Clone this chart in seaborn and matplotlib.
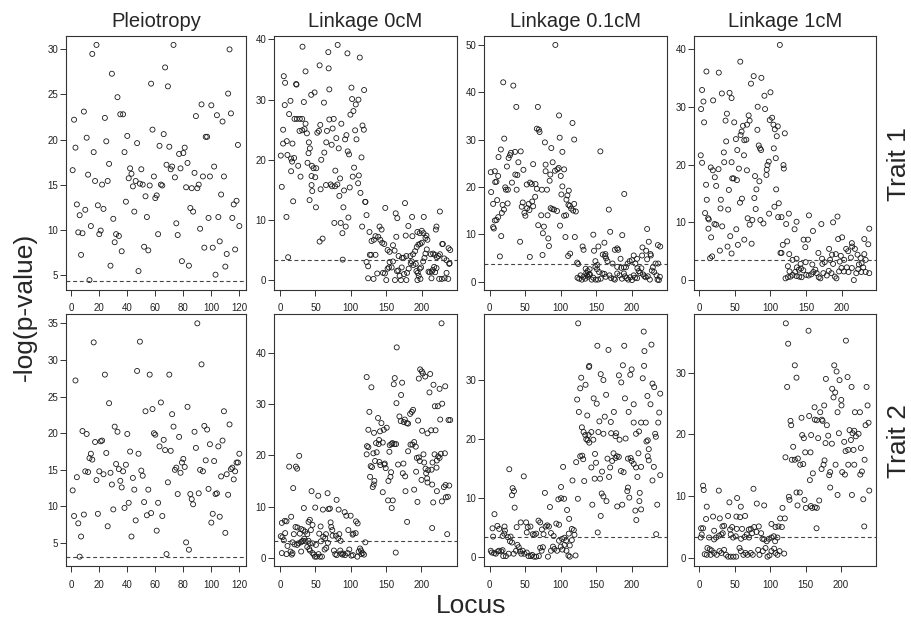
import numpy as np
import matplotlib
matplotlib.use("Agg")
import matplotlib.pyplot as plt
import seaborn as sns

# -log(p-value) per locus
pleio_t1 = [16.6, 22.2, 19.1, 12.8, 9.7, 11.6, 7.2, 9.6, 23.1, 12.2,
            20.2, 16.1, 4.4, 10.4, 29.5, 18.6, 15.4, 30.5, 12.7, 9.5,
            9.9, 15.0, 12.3, 22.4, 19.8, 15.4, 17.3, 6.0, 27.3, 11.2,
            8.6, 9.5, 24.7, 9.3, 22.8, 7.6, 22.8, 18.6, 13.1, 20.4,
            15.7, 16.8, 16.2, 14.8, 12.0, 15.4, 19.6, 5.4, 15.1, 16.7,
            15.0, 8.1, 13.7, 11.4, 7.7, 14.9, 26.2, 21.1, 15.9, 13.5,
            13.8, 9.5, 19.3, 15.0, 14.9, 20.6, 28.0, 17.2, 25.9, 19.2,
            16.7, 17.0, 30.5, 15.8, 10.7, 9.4, 18.4, 16.8, 6.5, 18.5,
            19.1, 14.7, 17.4, 6.0, 12.4, 14.6, 12.0, 16.3, 22.6, 14.6,
            15.0, 10.1, 23.9, 15.9, 8.0, 20.3, 20.3, 11.3, 15.9, 23.8,
            8.0, 17.0, 5.0, 22.7, 11.4, 8.7, 13.9, 22.0, 15.9, 5.9,
            7.3, 25.1, 30.0, 22.9, 11.3, 12.8, 7.8, 13.2, 19.4, 10.4]
pleio_t2 = [12.2, 8.7, 27.2, 14.0, 7.7, 3.15, 5.9, 20.3, 8.9, 14.8,
            19.9, 14.7, 16.6, 17.2, 16.4, 32.4, 18.8, 13.6, 9.0, 14.8,
            18.9, 19.0, 14.4, 28.0, 17.3, 7.3, 24.1, 14.6, 13.0, 9.6,
            20.9, 15.8, 20.2, 15.1, 13.5, 12.6, 14.8, 9.8, 15.7, 19.9,
            10.5, 17.5, 5.9, 13.9, 12.3, 8.1, 28.5, 17.2, 32.5, 14.9,
            14.2, 10.6, 23.0, 8.8, 12.3, 28.0, 9.1, 23.3, 20.0, 19.8,
            6.7, 10.5, 18.2, 24.2, 8.7, 19.1, 17.7, 3.5, 13.3, 28.0,
            17.6, 22.6, 20.9, 15.0, 15.3, 11.7, 19.5, 14.6, 16.0, 16.5,
            15.4, 5.1, 23.6, 4.1, 11.7, 11.0, 10.3, 20.2, 18.0, 35.0,
            11.8, 15.0, 29.4, 14.8, 21.0, 16.3, 20.5, 12.4, 18.5, 7.8,
            9.0, 16.2, 11.7, 11.8, 18.2, 8.6, 14.1, 19.0, 23.0, 6.4,
            14.4, 11.6, 21.2, 15.1, 15.3, 13.7, 14.8, 16.0, 16.0, 17.2]

link0_t1_x = [31.7, 68.2, 81.4, 95.2, 112.7, 36.0, 55.9, 68.7, 5.2, 7.1,
              22.7, 23.2, 44.0, 48.8, 69.6, 100.9, 118.8, 14.7, 33.6, 6.6,
              62.0, 101.8, 110.8, 107.0, 103.7, 99.4, 12.8, 20.4, 23.7, 27.9,
              31.3, 36.0, 69.6, 75.8, 86.6, 116.5, 118.4, 4.3, 27.5, 31.3,
              34.6, 37.9, 52.6, 54.9, 56.8, 66.3, 74.3, 93.8, 106.1, 108.0,
              4.3, 9.5, 17.5, 40.7, 42.1, 65.3, 72.9, 79.5, 91.9, 1.0,
              10.4, 15.6, 17.0, 19.9, 25.6, 62.5, 82.9, 95.6, 97.5, 115.1,
              40.2, 15.6, 28.9, 38.8, 45.0, 47.3, 51.1, 58.2, 78.1, 84.8,
              104.6, 111.3, 102.7, 2.4, 44.5, 49.7, 44.5, 45.5, 57.3, 64.9,
              71.5, 77.7, 81.0, 73.4, 83.8, 90.4, 98.5, 110.3, 113.6, 18.5,
              41.7, 50.7, 89.5, 120.3, 120.7, 9.0, 76.7, 85.7, 96.6, 88.1,
              92.8, 116.0, 122.2, 55.9, 60.1, 11.4, 88.5,
              122.2, 124.5, 126.4, 129.3, 132.6, 134.9, 138.7, 141.6, 144.4, 147.3,
              140.6, 143.5, 148.7, 163.4, 165.7, 176.6, 186.6, 203.1, 225.9, 181.3,
              221.1, 220.2, 164.3, 177.6, 187.0, 194.1, 197.4, 200.3, 202.7, 205.5,
              206.9, 208.3,
              126.9, 128.8, 134.9, 152.0, 154.8, 159.6, 161.9, 167.6, 172.3, 174.7,
              178.5, 184.2, 188.0, 190.8, 193.2, 195.5, 197.9, 200.3, 205.5, 207.4,
              213.1, 216.4, 218.8, 221.6, 224.0, 225.9, 229.2, 230.1, 238.2, 240.5,
              232.0, 235.3, 239.1,
              124.5, 132.1, 137.3, 145.4, 148.2, 150.1, 152.0, 153.9, 154.8, 157.7,
              159.6, 162.4, 165.2, 167.1, 169.0, 170.9, 171.9, 175.2, 178.5, 179.5,
              181.8, 184.7, 186.1, 188.4, 191.8, 192.7, 194.6, 197.4, 199.3, 202.2,
              204.1, 209.8, 211.6, 214.5, 215.9, 217.8, 219.2, 221.1,
              194.1, 196.0, 198.4, 214.0, 224.9, 228.7, 232.5, 235.3, 237.7, 239.6]
link0_t1_y = [38.8, 37.9, 39.1, 37.7, 37.0, 34.7, 35.7, 35.2, 33.9, 32.8,
              32.6, 32.5, 30.8, 31.2, 31.7, 32.0, 31.6, 29.8, 29.6, 29.1,
              29.5, 30.1, 30.0, 29.2, 28.1, 27.5, 27.6, 26.8, 26.8, 26.8,
              26.8, 26.0, 26.7, 26.8, 26.0, 25.7, 25.0, 25.0, 24.8, 24.9,
              25.1, 24.4, 24.5, 24.8, 25.8, 24.8, 25.2, 24.1, 24.9, 23.4,
              22.7, 23.1, 22.7, 22.9, 21.9, 22.9, 22.5, 23.6, 23.4, 20.7,
              20.8, 20.2, 19.7, 20.3, 19.0, 21.2, 21.9, 21.4, 20.9, 20.4,
              21.1, 18.1, 17.2, 19.5, 19.0, 18.6, 18.6, 20.0, 18.2, 16.9,
              18.7, 17.4, 17.2, 15.5, 17.3, 17.1, 15.8, 14.8, 15.1, 15.8,
              15.9, 15.6, 15.9, 15.6, 14.0, 14.9, 15.4, 16.1, 14.5, 13.1,
              13.3, 12.1, 12.1, 13.0, 13.0, 10.5, 9.5, 9.5, 10.4, 7.8,
              8.9, 8.9, 10.8, 6.4, 6.9, 3.8, 3.4,
              3.0, 2.3, 8.0, 6.5, 6.7, 7.3, 7.2, 6.7, 6.2, 6.0,
              8.9, 8.4, 12.0, 11.1, 10.3, 12.8, 10.5, 10.5, 11.4, 9.0,
              8.9, 8.4, 7.2, 7.4, 7.3, 8.0, 7.8, 8.2, 7.8, 7.0,
              7.4, 6.7,
              4.2, 4.2, 4.2, 5.0, 4.7, 5.8, 4.9, 4.0, 3.7, 3.7,
              4.0, 4.0, 4.3, 4.8, 5.5, 5.9, 6.0, 6.2, 4.4, 5.1,
              4.3, 4.4, 4.2, 3.8, 4.0, 4.3, 6.0, 6.0, 5.3, 5.0,
              3.6, 3.3, 2.7,
              0.3, 0.2, 1.1, 1.2, 1.1, 0.0, 1.9, 2.1, 3.0, 2.1,
              3.1, 0.0, 1.5, 1.6, 0.7, 0.0, 2.1, 1.0, 0.0, 1.2,
              1.9, 2.8, 3.1, 2.5, 2.7, 1.5, 1.2, 1.9, 2.1, 3.1,
              3.7, 1.4, 1.3, 1.4, 1.7, 2.2, 1.3, 2.0,
              0.0, 0.7, 0.2, 0.3, 0.2, 0.2, 0.3, 1.2, 0.2, 2.8]

link01_t1_x = [92.3, 19.0, 33.2, 37.4, 67.7, 97.5, 116.4, 66.3, 70.1, 69.1,
               20.4, 98.4, 118.8, 77.6, 15.7, 12.4, 86.6, 102.2, 35.6, 43.6,
               29.9, 26.6, 28.5, 40.3, 61.1, 88.5, 78.6, 97.0, 95.2, 104.6,
               24.2, 47.4, 7.2, 1.5, 11.9, 91.8, 78.6, 85.2, 36.0, 38.9,
               99.9, 84.3, 7.7, 9.5, 31.3, 56.8, 59.2, 64.4, 52.1, 21.8,
               22.8, 25.6, 37.9, 66.3, 73.4, 80.5, 102.2, 2.0, 100.8, 111.2,
               10.5, 4.8, 18.1, 46.4, 45.0, 54.9, 63.9, 59.7, 61.1, 52.6,
               55.9, 48.8, 50.2, 25.2, 20.0, 17.1, 11.9, 9.5, 7.2, 112.6,
               110.7, 114.5, 118.8, 121.1, 117.4, 107.9, 109.3, 85.7, 88.0, 90.4,
               94.7, 72.4, 81.4, 104.6, 107.4, 4.8, 5.8, 68.2, 76.2, 74.8,
               82.4, 83.3, 98.9, 106.5, 119.7, 16.2, 42.7, 14.3, 56.4, 74.3,
               110.3, 113.1, 123.0, 124.4, 130.6, 132.0, 145.7, 152.8, 155.6, 161.3,
               159.0, 162.7, 167.5, 169.4, 176.0, 179.3, 180.7, 186.4, 189.2, 184.0,
               221.4, 223.7, 214.8, 220.0, 236.5, 239.8, 226.1, 226.6, 221.4, 214.3,
               207.2, 202.5, 200.1, 196.8, 204.8, 162.3, 146.7, 163.7, 165.6, 172.7,
               179.3, 185.0, 188.7, 191.6, 194.0, 148.6, 151.4, 137.7, 134.9, 135.8,
               139.6, 140.5, 148.6, 150.9, 153.8, 161.3, 163.2, 168.4, 170.8, 174.6,
               176.0, 179.3, 182.6, 185.9, 188.7, 190.2, 192.5, 194.9, 197.7, 200.1,
               202.5, 204.4, 207.7, 209.5, 211.4, 213.3, 215.7, 217.6, 219.5, 228.0,
               229.4, 231.3, 233.2, 234.6, 236.0, 237.9, 239.3, 236.9, 123.5, 125.9,
               127.8, 129.6, 132.0, 134.4, 136.8, 138.2, 141.0, 143.4, 145.7, 149.0,
               152.3, 156.1, 158.5, 207.2, 222.3, 225.2]
link01_t1_y = [50.0, 42.1, 41.4, 36.9, 36.9, 35.1, 33.5, 32.3, 31.6, 32.1,
               30.2, 30.4, 30.0, 29.4, 27.9, 26.3, 28.2, 27.4, 27.4, 27.5,
               27.2, 26.1, 26.7, 25.2, 24.8, 25.2, 24.7, 24.0, 23.7, 23.7,
               24.3, 23.6, 23.3, 23.1, 22.3, 23.4, 23.3, 22.6, 22.6, 22.5,
               22.3, 21.3, 21.0, 21.1, 20.9, 20.9, 20.6, 20.6, 20.5, 19.9,
               19.4, 19.4, 19.4, 19.6, 19.4, 19.4, 20.1, 18.9, 18.4, 19.2,
               17.2, 16.4, 16.2, 16.7, 15.8, 16.4, 17.9, 16.9, 15.9, 15.5,
               15.1, 14.5, 13.9, 16.5, 15.2, 14.5, 13.6, 13.0, 12.9, 16.0,
               16.2, 15.4, 16.4, 14.8, 15.0, 17.3, 18.2, 15.5, 15.3, 15.2,
               14.9, 14.0, 14.0, 13.9, 14.0, 11.5, 11.2, 11.9, 11.6, 10.2,
               9.1, 7.5, 11.8, 9.4, 9.4, 9.6, 8.4, 5.3, 5.2, 5.6,
               5.4, 5.9, 4.0, 3.7, 7.4, 6.7, 9.9, 7.4, 27.5, 8.2,
               5.7, 5.8, 15.2, 10.5, 6.7, 7.0, 6.7, 9.8, 18.5, 4.8,
               11.1, 8.4, 7.2, 6.5, 7.7, 7.4, 5.8, 5.5, 4.7, 5.5,
               4.8, 5.5, 4.5, 4.3, 3.8, 5.4, 6.5, 4.9, 4.3, 3.8,
               3.1, 2.9, 3.0, 3.0, 3.8, 4.3, 3.5, 2.2, 2.7, 1.8,
               1.5, 2.6, 3.1, 2.6, 2.0, 1.6, 1.0, 1.3, 0.7, 0.6,
               0.4, 1.7, 1.3, 0.6, 1.7, 1.1, 0.7, 0.4, 0.9, 0.3,
               1.3, 0.8, 2.8, 2.2, 1.8, 2.8, 1.5, 1.1, 0.9, 2.3,
               3.0, 2.0, 3.8, 1.3, 0.4, 0.3, 1.0, 3.8, 0.8, 0.6,
               1.3, 0.4, 1.0, 0.6, 1.3, 1.0, 1.5, 0.4, 0.8, 0.4,
               0.4, 0.6, 1.7, 0.7, 1.1, 0.4]

link1_t1_x = [113.2, 57.5, 9.9, 27.3, 76.4, 87.2, 72.6, 3.8, 5.7, 19.3,
              31.6, 42.4, 45.3, 100.0, 91.5, 82.0, 92.4, 2.4, 38.7, 36.8,
              49.0, 69.3, 70.7, 67.0, 61.3, 99.0, 102.3, 104.2, 110.3, 106.1,
              6.6, 81.6, 59.4, 58.0, 66.0, 63.2, 37.7, 51.4, 108.9, 120.2,
              83.5, 85.3, 86.8, 34.4, 53.3, 104.7, 62.7, 1.9, 3.8, 107.5,
              16.0, 18.9, 26.9, 34.9, 45.3, 55.6, 66.9, 97.6, 95.7, 94.8,
              94.3, 118.3, 118.8, 46.2, 48.1, 52.8, 21.7, 23.6, 41.5, 78.3,
              84.4, 9.4, 10.4, 30.2, 59.9, 57.1, 108.0, 80.2, 111.7, 77.3,
              105.6, 29.7, 40.5, 79.2, 8.0, 12.3, 13.2, 67.9, 70.7, 74.5,
              85.8, 90.1, 98.1, 110.8, 115.5, 125.9, 21.2, 23.6, 32.1, 12.7,
              16.5, 43.4, 51.9, 63.2, 73.5, 54.2, 39.6, 28.8, 45.3, 17.9,
              15.1, 154.2, 194.3, 188.1, 171.6, 136.7, 122.1, 159.8, 133.9, 200.8,
              195.2, 239.0, 232.0, 237.6, 146.6, 152.8, 123.5, 117.4, 149.0, 114.1,
              115.5, 126.4, 131.1, 136.7, 167.4, 182.5, 191.9, 199.0, 206.5, 209.3,
              214.5, 215.0, 218.8, 222.5, 226.8, 232.0, 233.9, 213.1, 203.7, 197.5,
              186.7, 188.1, 183.9, 176.3, 173.0, 172.6, 158.9, 149.5, 142.4, 137.2,
              124.5, 126.8, 140.0, 142.9, 146.2, 134.8, 131.1, 136.7, 121.2, 124.5,
              128.2, 140.5, 143.8, 150.4, 153.7, 157.5, 160.3, 163.1, 165.0, 167.9,
              170.2, 174.4, 179.2, 182.0, 185.8, 190.5, 192.8, 196.6, 199.9, 203.2,
              207.4, 209.8, 214.5, 217.3, 220.7, 223.5, 227.7, 230.5, 233.9, 239.0,
              228.2, 224.4]
link1_t1_y = [40.7, 37.8, 36.1, 35.9, 35.3, 35.0, 34.0, 32.9, 30.9, 31.1,
              32.3, 32.4, 31.5, 32.5, 31.9, 30.0, 29.6, 29.6, 28.8, 27.6,
              27.3, 28.5, 27.6, 26.9, 26.7, 27.7, 28.1, 26.9, 26.6, 26.1,
              27.3, 26.0, 25.7, 25.1, 24.3, 24.2, 24.0, 24.4, 24.9, 25.4,
              23.3, 22.8, 22.5, 22.1, 22.5, 22.8, 21.6, 21.6, 20.3, 21.1,
              19.5, 19.0, 19.2, 20.4, 20.4, 19.3, 19.0, 20.5, 19.9, 19.1,
              18.2, 19.9, 19.3, 17.6, 17.6, 17.3, 17.8, 16.3, 15.6, 18.0,
              17.1, 16.5, 13.9, 13.9, 14.1, 13.4, 15.7, 15.7, 13.3, 14.2,
              12.7, 12.4, 12.2, 12.3, 11.6, 10.7, 10.5, 10.7, 9.6, 10.4,
              10.4, 9.8, 11.5, 10.9, 10.9, 11.5, 9.7, 9.6, 9.3, 8.9,
              7.4, 7.6, 8.8, 7.0, 6.3, 6.1, 5.8, 5.1, 4.6, 4.1,
              3.8, 11.2, 11.0, 10.0, 9.7, 10.1, 9.7, 8.5, 8.8, 7.4,
              7.1, 8.9, 7.1, 6.2, 7.0, 7.0, 6.7, 6.1, 5.7, 4.7,
              4.7, 4.5, 3.5, 3.7, 4.7, 5.4, 4.5, 4.2, 5.4, 5.0,
              6.4, 5.8, 5.4, 4.4, 3.8, 4.5, 3.5, 3.9, 3.5, 3.2,
              4.4, 2.8, 3.5, 3.1, 2.8, 3.7, 2.7, 3.1, 2.8, 2.2,
              2.4, 1.5, 1.8, 2.0, 1.7, 1.4, 0.9, 0.7, 0.3, 0.5,
              0.6, 0.6, 0.5, 0.9, 0.8, 1.0, 1.4, 1.8, 1.2, 0.5,
              0.3, 1.2, 0.8, 1.6, 1.2, 0.6, 0.3, 1.5, 2.1, 1.5,
              2.2, 1.4, 2.1, 0.0, 1.2, 1.9, 1.4, 2.2, 1.4, 1.2,
              2.9, 2.7]

link0_t2_x = [228.7, 165.2, 122.6, 129.3, 162.4, 172.8, 161.0, 171.4, 164.8, 198.4,
              200.8, 202.2, 205.5, 196.5, 212.6, 211.6, 217.3, 219.2, 223.5, 225.9,
              229.6, 233.9, 238.6, 241.0, 226.8, 126.4, 125.0, 133.0, 138.7, 143.5,
              141.6, 146.8, 151.0, 169.0, 170.9, 175.2, 176.6, 179.5, 181.3, 184.2,
              186.6, 188.4, 195.5, 201.2, 214.0, 220.2, 208.8, 140.2, 135.9, 145.4,
              139.7, 123.1, 125.0, 122.6, 134.5, 136.8, 132.1, 128.3, 130.2, 127.4,
              132.6, 133.5, 131.2, 140.6, 142.0, 148.2, 147.7, 149.6, 154.8, 155.3,
              157.7, 159.1, 161.9, 164.3, 157.2, 156.3, 153.4, 145.4, 152.9, 159.6,
              158.1, 167.1, 173.8, 174.7, 177.1, 177.6, 179.9, 184.7, 181.3, 187.5,
              189.9, 192.2, 193.7, 196.5, 197.9, 192.7, 200.3, 203.1, 204.1, 206.0,
              208.3, 206.9, 189.9, 194.6, 208.8, 209.8, 215.9, 214.5, 215.4, 216.9,
              218.8, 222.1, 224.0, 225.9, 227.7, 221.6, 222.1, 229.2, 232.0, 233.4,
              234.4, 234.8, 237.7, 239.6, 215.4, 236.7, 12.8, 22.3, 24.1, 27.0,
              18.5, 44.5, 54.0, 67.2, 80.0, 33.6, 49.7, 60.6, 68.6, 70.5,
              82.9, 91.4, 93.8, 99.9, 107.5, 109.8, 2.4, 6.6, 9.0, 15.6,
              42.1, 45.9, 40.2, 21.8, 24.6, 29.8, 32.7, 7.1, 19.4, 27.9,
              35.5, 38.4, 57.3, 55.4, 71.5, 72.4, 73.9, 64.9, 74.3, 63.9,
              43.6, 96.6, 102.7, 103.7, 107.0, 79.1, 83.8, 82.4, 85.7, 0.9,
              3.3, 5.2, 17.5, 20.4, 24.1, 26.0, 29.4, 30.8, 32.7, 34.1,
              36.0, 40.2, 42.1, 45.9, 50.7, 57.8, 61.1, 67.7, 2.4, 10.4,
              9.0, 14.7, 16.6, 17.5, 29.8, 38.4, 41.2, 42.1, 45.9, 47.8,
              49.2, 51.6, 54.4, 56.3, 59.2, 63.0, 65.3, 76.2, 78.1, 80.0,
              85.2, 86.6, 88.1, 89.5, 91.9, 95.6, 98.0, 100.9, 103.2, 109.4,
              111.3, 113.2, 114.6, 115.1, 117.0, 118.8, 120.7, 163.8]
link0_t2_y = [45.8, 41.1, 35.3, 33.3, 35.1, 34.2, 33.9, 31.8, 30.2, 36.8,
              36.4, 36.0, 35.4, 35.0, 35.9, 32.3, 33.8, 29.6, 29.6, 33.0,
              30.1, 33.5, 26.9, 26.9, 27.0, 28.5, 25.0, 24.4, 27.3, 26.3,
              24.7, 25.0, 25.4, 27.6, 26.7, 26.5, 27.0, 26.3, 26.2, 28.1,
              28.5, 28.9, 26.8, 24.8, 24.9, 24.9, 24.3, 23.0, 22.4, 22.5,
              22.2, 21.8, 21.6, 20.2, 18.9, 20.6, 20.4, 17.9, 17.7, 15.8,
              14.3, 15.0, 13.8, 18.7, 18.1, 18.4, 18.2, 17.5, 20.7, 22.0,
              22.2, 22.4, 22.2, 22.2, 16.7, 15.8, 15.0, 12.8, 11.2, 11.2,
              9.7, 18.2, 16.5, 18.4, 15.9, 13.0, 7.0, 22.1, 20.8, 22.1,
              22.6, 21.7, 19.5, 19.6, 18.9, 16.8, 15.2, 20.2, 18.6, 17.4,
              15.5, 16.5, 13.3, 10.9, 14.7, 17.1, 18.6, 17.2, 14.3, 10.8,
              20.2, 19.0, 19.8, 19.5, 20.3, 17.6, 13.0, 11.0, 13.8, 20.4,
              14.2, 11.8, 11.9, 14.1, 5.8, 4.6, 17.8, 17.8, 17.4, 19.9,
              13.6, 13.0, 12.1, 12.6, 11.3, 9.7, 9.8, 9.4, 9.5, 9.6,
              9.4, 8.9, 8.2, 8.2, 7.1, 6.7, 6.8, 7.2, 7.1, 8.0,
              7.4, 6.4, 7.0, 6.0, 5.9, 5.6, 5.4, 4.8, 4.6, 4.7,
              5.1, 4.6, 6.1, 4.7, 6.9, 6.0, 5.4, 4.6, 4.3, 3.8,
              5.4, 5.4, 4.5, 4.7, 4.8, 4.3, 4.6, 3.8, 3.3, 4.2,
              4.0, 3.4, 3.0, 2.6, 2.5, 2.8, 3.0, 3.2, 3.3, 3.7,
              3.2, 3.3, 2.8, 2.8, 2.5, 3.2, 4.1, 2.9, 0.9, 2.3,
              0.7, 1.2, 0.6, 0.9, 1.2, 2.1, 1.7, 1.4, 0.9, 0.6,
              0.2, 0.2, 0.7, 0.2, 0.2, 1.6, 1.9, 1.4, 0.7, 0.5,
              1.4, 0.8, 0.6, 0.8, 0.5, 0.9, 1.6, 0.4, 0.5, 0.2,
              1.2, 1.8, 1.4, 0.7, 0.9, 0.6, 3.0, 1.0]

link01_t2_x = [124.4, 216.6, 151.4, 167.0, 189.2, 227.5, 140.0, 139.6, 217.6, 128.7,
               156.1, 159.9, 181.7, 187.3, 199.6, 197.7, 217.1, 215.2, 228.9, 231.3,
               185.0, 123.0, 134.8, 127.3, 146.2, 150.5, 163.7, 190.2, 202.5, 221.8,
               226.1, 239.8, 125.4, 137.2, 129.6, 132.0, 134.4, 139.1, 135.8, 137.7,
               140.0, 142.9, 145.7, 154.2, 161.8, 152.8, 159.9, 170.3, 174.6, 170.8,
               177.9, 176.9, 182.6, 191.1, 195.4, 202.5, 205.8, 210.0, 212.9, 219.5,
               220.4, 222.3, 232.7, 233.7, 237.0, 238.4, 223.7, 222.3, 223.7, 230.8,
               239.8, 228.9, 235.6, 234.1, 209.1, 198.2, 199.6, 202.5, 205.8, 212.9,
               207.7, 211.0, 210.5, 212.9, 206.2, 194.4, 193.5, 196.3, 186.4, 179.3,
               194.4, 174.1, 176.9, 178.8, 181.6, 184.5, 188.3, 172.2, 165.6, 169.4,
               167.9, 158.0, 155.2, 148.1, 149.5, 142.9, 127.3, 130.1, 131.5, 121.6,
               132.9, 147.6, 157.5, 159.9, 164.2, 144.3, 156.1, 151.9, 204.8, 116.4,
               124.0, 100.3, 103.2, 96.5, 100.3, 104.6, 108.8, 111.7, 77.6, 84.7,
               27.5, 32.2, 34.1, 31.3, 35.1, 47.9, 6.7, 3.9, 4.8, 10.8,
               13.3, 20.9, 21.4, 20.4, 18.1, 25.6, 28.5, 29.4, 31.3, 37.9,
               43.6, 51.2, 53.5, 57.3, 52.1, 60.6, 63.0, 65.3, 68.6, 71.0,
               73.4, 75.7, 78.6, 80.9, 83.3, 86.2, 89.9, 93.7, 97.5, 97.5,
               101.8, 105.1, 107.4, 111.2, 115.5, 118.3, 119.2, 115.5, 112.6, 110.7,
               112.6, 120.7, 1.5, 2.9, 6.2, 8.6, 11.4, 13.3, 16.2, 18.1,
               19.0, 22.8, 26.6, 33.7, 37.0, 38.9, 40.8, 42.6, 44.5, 46.4,
               48.8, 52.1, 54.5, 57.8, 59.7, 62.5, 65.3, 69.1, 71.0, 73.0,
               74.8, 81.9, 86.2, 89.0, 90.9, 94.7, 99.9, 102.2, 105.1, 107.9]
link01_t2_y = [39.6, 38.2, 35.8, 35.1, 35.8, 36.0, 32.4, 32.2, 34.9, 30.4,
               31.0, 30.0, 30.8, 32.5, 31.8, 30.9, 32.4, 30.3, 29.4, 28.8,
               29.6, 26.7, 29.2, 28.6, 26.9, 26.0, 27.5, 26.9, 25.9, 27.3,
               25.9, 27.7, 24.6, 24.0, 22.0, 21.2, 20.7, 20.7, 20.0, 19.8,
               19.4, 21.2, 19.9, 23.0, 23.8, 21.2, 20.9, 22.9, 24.6, 21.0,
               21.0, 20.5, 19.9, 20.1, 24.6, 22.8, 20.9, 21.3, 22.8, 22.8,
               19.6, 19.8, 20.9, 20.4, 22.8, 24.5, 18.3, 17.1, 16.4, 15.3,
               13.9, 13.0, 8.9, 3.9, 17.6, 16.8, 16.3, 15.8, 15.2, 15.3,
               13.6, 10.9, 9.5, 8.1, 6.3, 11.8, 11.2, 10.1, 8.9, 8.6,
               16.7, 17.6, 16.8, 17.1, 17.0, 14.6, 14.4, 16.3, 16.7, 15.2,
               13.6, 14.5, 13.3, 17.5, 16.0, 15.2, 17.1, 17.2, 16.6, 16.1,
               12.9, 13.3, 10.8, 10.3, 9.5, 8.9, 7.0, 4.2, 7.9, 13.0,
               9.9, 11.9, 15.3, 9.8, 10.0, 9.9, 8.0, 6.5, 10.9, 8.5,
               14.9, 11.7, 11.2, 10.5, 8.4, 13.7, 7.3, 4.9, 3.5, 5.3,
               4.8, 5.2, 4.5, 4.0, 3.6, 3.4, 2.7, 3.5, 2.5, 5.1,
               5.9, 5.9, 5.1, 5.2, 4.2, 3.9, 3.8, 4.0, 6.2, 5.9,
               4.7, 3.9, 5.2, 5.4, 5.2, 4.1, 3.6, 5.7, 5.5, 2.8,
               3.1, 3.3, 2.8, 4.0, 4.8, 4.6, 3.8, 2.9, 2.0, 0.3,
               0.1, 0.3, 1.1, 0.8, 0.7, 0.6, 1.0, 1.1, 1.0, 1.2,
               0.2, 0.2, 0.6, 0.6, 1.1, 2.1, 1.7, 1.0, 0.6, 1.1,
               0.6, 0.8, 0.2, 0.2, 0.4, 0.1, 0.1, 0.2, 1.6, 1.1,
               1.7, 0.1, 1.1, 1.8, 1.4, 1.1, 1.8, 1.3, 2.1, 1.1]

link1_t2_x = [122.1, 154.2, 125.4, 207.0, 134.8, 137.2, 124.0, 190.5, 193.8, 209.3,
              178.7, 198.0, 215.0, 236.2, 187.6, 191.9, 189.5, 200.4, 200.8, 162.7,
              176.3, 237.6, 219.7, 226.8, 195.2, 155.1, 144.3, 163.1, 165.9, 170.7,
              173.0, 174.0, 180.1, 128.7, 129.7, 239.0, 234.8, 145.2, 147.6, 157.9,
              167.8, 178.2, 182.0, 187.2, 197.1, 204.6, 214.1, 212.2, 216.4, 218.8,
              221.1, 224.9, 228.2, 206.5, 210.3, 217.8, 132.5, 121.6, 130.6, 134.8,
              139.1, 142.4, 146.7, 149.5, 157.0, 160.3, 156.1, 172.6, 175.4, 176.8,
              183.4, 184.8, 184.8, 192.4, 195.2, 201.8, 205.6, 210.3, 218.8, 227.3,
              229.6, 233.4, 215.5, 231.5, 240.0, 232.9, 165.5, 137.2, 141.9, 126.4,
              127.3, 138.6, 148.5, 150.4, 157.5, 159.4, 163.1, 165.9, 169.3, 117.4,
              120.7, 114.1, 116.5, 5.2, 6.1, 10.4, 27.4, 42.4, 53.3, 58.5,
              76.4, 81.1, 91.5, 19.3, 28.8, 40.5, 52.3, 57.5, 64.6, 9.4,
              2.4, 5.2, 20.8, 32.5, 34.9, 43.4, 46.2, 52.8, 60.3, 69.8,
              72.6, 77.3, 83.9, 87.2, 101.8, 107.5, 111.7, 3.3, 1.9, 13.7,
              20.8, 23.6, 27.8, 31.1, 33.0, 44.3, 47.6, 51.4, 58.9, 64.1,
              66.9, 70.2, 74.5, 80.6, 89.1, 91.5, 95.2, 98.1, 101.8, 105.1,
              107.0, 110.3, 11.3, 14.6, 17.4, 7.5, 10.4, 16.0, 20.8, 24.5,
              28.3, 31.1, 34.9, 37.7, 40.5, 44.3, 48.1, 51.9, 56.6, 58.5,
              62.2, 65.1, 67.9, 72.6, 75.4, 83.0, 84.9, 89.6, 93.4, 96.2,
              99.0, 101.8, 105.6, 107.5, 110.3, 113.2, 119.8]
link1_t2_y = [38.0, 36.8, 34.7, 35.2, 31.2, 29.2, 27.7, 31.2, 30.2, 29.3,
              29.0, 28.8, 27.7, 27.7, 27.4, 26.8, 26.0, 25.6, 24.7, 24.4,
              24.7, 24.7, 23.6, 23.6, 23.6, 23.0, 22.7, 22.4, 22.3, 23.6,
              22.4, 22.2, 21.5, 22.2, 21.5, 21.9, 21.5, 19.9, 19.4, 19.9,
              19.4, 18.6, 19.8, 18.5, 20.2, 18.8, 19.1, 20.7, 20.2, 20.6,
              19.7, 20.1, 17.8, 17.3, 17.5, 17.5, 18.0, 16.3, 15.9, 15.9,
              16.1, 15.1, 15.2, 17.1, 17.1, 13.7, 12.6, 14.4, 15.1, 15.8,
              13.4, 13.9, 11.4, 15.1, 10.2, 13.9, 13.5, 15.1, 15.1, 13.5,
              14.0, 15.9, 10.2, 9.5, 10.9, 5.1, 4.8, 10.6, 10.6, 9.9,
              9.4, 8.5, 9.4, 8.1, 8.4, 8.1, 8.2, 8.1, 9.3, 8.1,
              6.4, 6.4, 5.0, 11.7, 11.0, 8.3, 10.9, 9.0, 9.7, 8.3,
              11.2, 8.8, 8.5, 6.7, 6.4, 6.8, 6.7, 6.6, 6.8, 6.3,
              4.8, 4.8, 4.4, 5.1, 5.2, 4.6, 5.0, 4.7, 4.7, 4.6,
              4.7, 5.0, 5.1, 4.0, 5.5, 5.0, 5.1, 3.8, 3.3, 3.3,
              3.0, 3.3, 3.6, 3.8, 4.0, 3.8, 3.3, 3.5, 3.1, 3.4,
              3.8, 3.3, 4.0, 4.2, 3.1, 3.0, 2.7, 3.1, 3.3, 3.5,
              2.7, 3.3, 1.6, 1.4, 1.2, 0.6, 0.5, 0.5, 0.8, 0.5,
              1.1, 0.8, 1.3, 0.5, 0.2, 0.2, 0.2, 0.2, 1.6, 1.1,
              0.5, 0.8, 0.5, 0.8, 0.5, 1.3, 0.5, 1.1, 1.6, 0.2,
              0.4, 1.1, 1.5, 0.8, 0.5, 1.1, 0.7]

# significance thresholds (dashed lines)
thresh_t1 = [4.35, 3.27, 3.69, 3.40]
thresh_t2 = [3.15, 3.31, 3.42, 3.34]

models = ["Pleiotropy", "Linkage 0cM", "Linkage 0.1cM", "Linkage 1cM"]
traits = ["Trait 1", "Trait 2"]

sns.set_theme(style="ticks")
plt.rcParams['font.family'] = ['Liberation Sans', 'DejaVu Sans']

W, H = 912, 617
fig = plt.figure(figsize=(W / 100, H / 100), dpi=100)

# panel boxes in pixels
cols = [(66, 246), (274, 457), (484, 667), (694, 876)]
rows = [(35.5, 289.5), (314, 566)]

locus_p = np.arange(1, len(pleio_t1) + 1)
data = [
    [(locus_p, pleio_t1), (link0_t1_x, link0_t1_y), (link01_t1_x, link01_t1_y), (link1_t1_x, link1_t1_y)],
    [(locus_p, pleio_t2), (link0_t2_x, link0_t2_y), (link01_t2_x, link01_t2_y), (link1_t2_x, link1_t2_y)],
]
thresholds = [thresh_t1, thresh_t2]
yticks = [
    [np.arange(5, 31, 5), np.arange(0, 41, 10), np.arange(0, 51, 10), np.arange(0, 41, 10)],
    [np.arange(5, 36, 5), np.arange(0, 41, 10), np.arange(0, 31, 10), np.arange(0, 31, 10)],
]


def padded(v):
    lo, hi = np.min(v), np.max(v)
    r = hi - lo
    return lo - 0.04 * r, hi + 0.04 * r


for i, (y0, y1) in enumerate(rows):
    for j, (x0, x1) in enumerate(cols):
        ax = fig.add_axes([x0 / W, 1 - y1 / H, (x1 - x0) / W, (y1 - y0) / H])
        xs, ys = data[i][j]
        xs = np.asarray(xs, dtype=float)
        ys = np.asarray(ys, dtype=float)
        sns.scatterplot(x=xs, y=ys, ax=ax, marker='o', s=13,
                        facecolor='none', edgecolor='#1a1a1a', linewidth=0.6,
                        legend=False)
        ax.axhline(thresholds[i][j], color='#444444', lw=0.8, ls=(0, (3.5, 2.5)))
        ax.set_xlim(*padded(xs))
        ax.set_ylim(*padded(ys))
        if j == 0:
            ax.set_xticks(np.arange(0, 121, 20))
        else:
            ax.set_xticks(np.arange(0, 201, 50))
        ax.set_yticks(yticks[i][j])
        ax.tick_params(axis='both', direction='out', length=4, width=0.7,
                       labelsize=7, color='#333333', labelcolor='#222222')
        ax.tick_params(axis='x', pad=6)
        ax.tick_params(axis='y', pad=1.5)
        for sp in ax.spines.values():
            sp.set_color('#333333')
            sp.set_linewidth(0.8)
        ax.set_xlabel('')
        ax.set_ylabel('')
        if i == 0:
            ax.set_title(models[j], fontsize=14.5, pad=6.3)

fig.text(25 / W, 1 - 307 / H, '-log(p-value)', rotation=90, fontsize=19,
         ha='center', va='center')
fig.text(471 / W, 1 - 613 / H, 'Locus', fontsize=19, ha='center', va='baseline')
fig.text(899 / W, 1 - 164 / H, traits[0], rotation=90, fontsize=19,
         ha='center', va='center')
fig.text(899 / W, 1 - 441 / H, traits[1], rotation=90, fontsize=19,
         ha='center', va='center')

fig.savefig('out.png', dpi=100)
